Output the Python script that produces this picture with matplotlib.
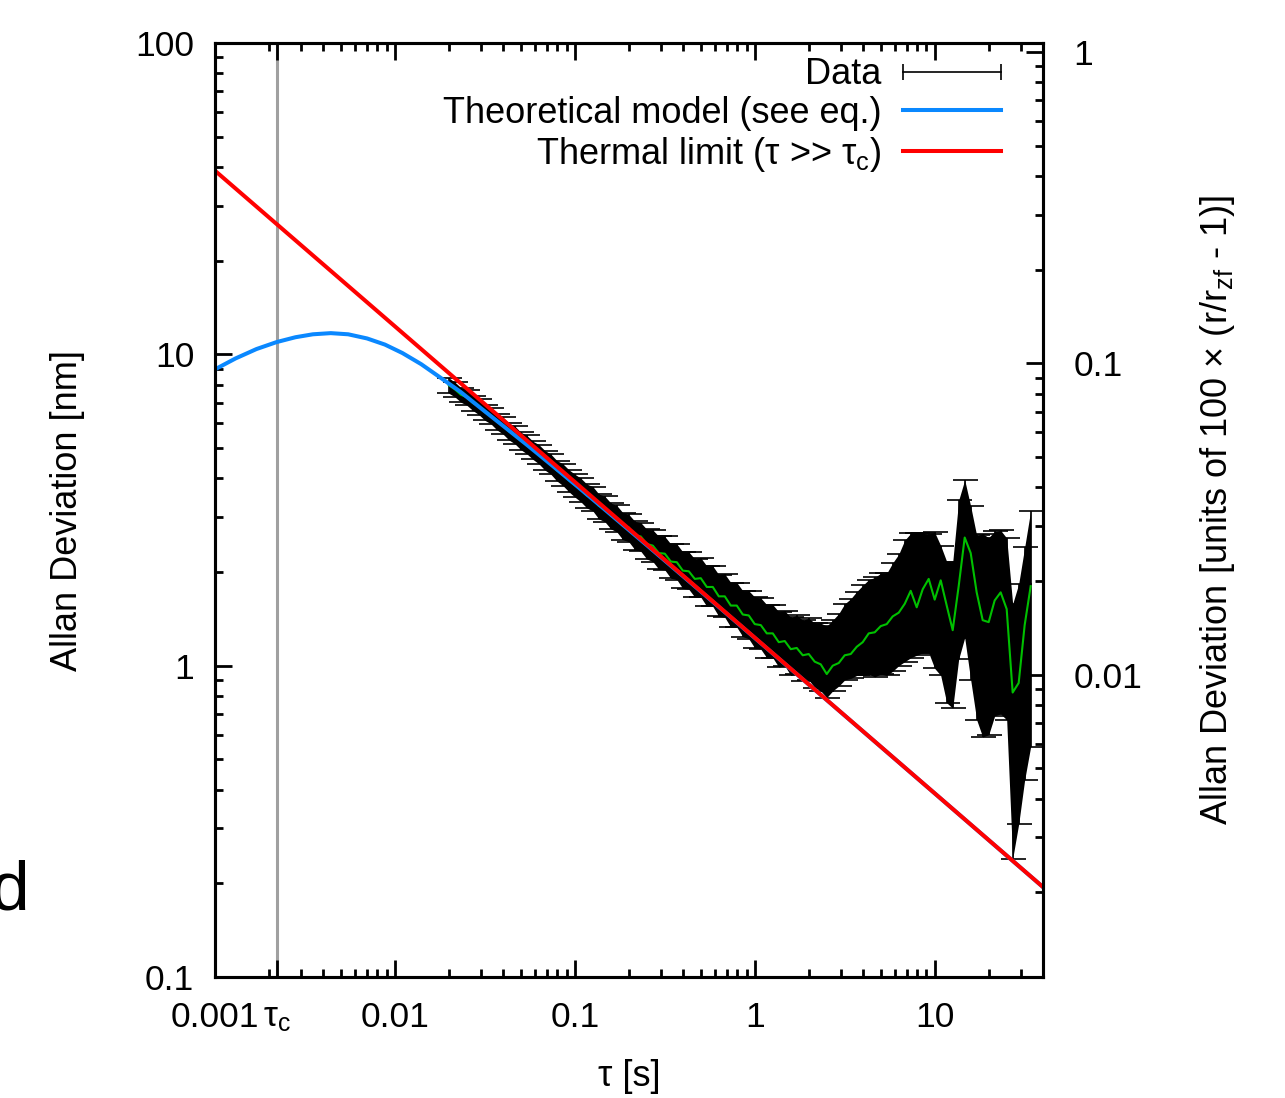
import matplotlib
matplotlib.use("Agg")
import matplotlib.pyplot as plt
from matplotlib.lines import Line2D
from matplotlib.ticker import NullFormatter

plt.rcParams['font.family'] = ['Liberation Sans', 'DejaVu Sans']
plt.rcParams['mathtext.default'] = 'regular'

# measured Allan deviation (nm) with lower / upper error
tau = [0.01995, 0.02154, 0.02326, 0.02512, 0.02712, 0.02929, 0.03162, 0.03415, 0.03687, 0.03981,
       0.04299, 0.04642, 0.05012, 0.05412, 0.05843, 0.06310, 0.06813, 0.07356, 0.07943, 0.08577, 0.09261,
       0.1000, 0.1080, 0.1166, 0.1259, 0.1359, 0.1468, 0.1585, 0.1711, 0.1848, 0.1995,
       0.2154, 0.2326, 0.2512, 0.2712, 0.2929, 0.3162, 0.3415, 0.3687, 0.3981, 0.4299,
       0.4642, 0.5012, 0.5412, 0.5843, 0.6310, 0.6813, 0.7356, 0.7943, 0.8577, 0.9261,
       1.000, 1.080, 1.166, 1.259, 1.359, 1.468, 1.585, 1.711, 1.848, 1.995,
       2.154, 2.326, 2.512, 2.712, 2.929, 3.162, 3.415, 3.687, 3.981, 4.299,
       4.642, 5.012, 5.412, 5.843, 6.310, 6.813, 7.356, 7.943, 8.577, 9.261,
       10.00, 10.80, 11.66, 12.59, 13.59, 14.68, 15.85, 17.11, 18.48, 19.95,
       21.54, 23.26, 25.12, 27.12, 29.29, 31.62, 34.15]
adev = [7.95, 7.72, 7.42, 7.28, 6.98, 6.80, 6.52, 6.35, 6.08, 5.92,
        5.66, 5.52, 5.28, 5.14, 4.93, 4.79, 4.58, 4.45, 4.24, 4.12, 3.94,
        3.80, 3.68, 3.52, 3.45, 3.26, 3.20, 3.04, 2.98, 2.82, 2.78,
        2.63, 2.60, 2.46, 2.43, 2.30, 2.29, 2.16, 2.15, 2.02, 2.01,
        1.90, 1.91, 1.79, 1.79, 1.67, 1.67, 1.56, 1.56, 1.46, 1.45,
        1.36, 1.35, 1.27, 1.27, 1.19, 1.20, 1.13, 1.14, 1.08, 1.09,
        1.03, 1.01, 0.94, 1.00, 1.02, 1.08, 1.09, 1.15, 1.19, 1.27,
        1.28, 1.34, 1.36, 1.44, 1.48, 1.58, 1.74, 1.54, 1.76, 1.90,
        1.63, 1.88, 1.56, 1.30, 1.80, 2.58, 2.30, 1.72, 1.40, 1.38,
        1.62, 1.72, 1.52, 0.82, 0.88, 1.35, 1.80]
err_lo = [0.45, 0.42, 0.40, 0.42, 0.38, 0.40, 0.38, 0.37, 0.36, 0.37,
          0.35, 0.36, 0.34, 0.35, 0.33, 0.34, 0.33, 0.33, 0.32, 0.33, 0.32,
          0.32, 0.32, 0.31, 0.31, 0.30, 0.30, 0.29, 0.29, 0.28, 0.28,
          0.27, 0.27, 0.26, 0.27, 0.26, 0.26, 0.25, 0.26, 0.25, 0.25,
          0.24, 0.25, 0.24, 0.24, 0.23, 0.24, 0.23, 0.23, 0.22, 0.23,
          0.22, 0.22, 0.21, 0.21, 0.20, 0.20, 0.20, 0.20, 0.19, 0.19,
          0.18, 0.18, 0.15, 0.17, 0.16, 0.18, 0.18, 0.22, 0.26, 0.33,
          0.36, 0.40, 0.43, 0.48, 0.48, 0.55, 0.68, 0.46, 0.66, 0.80,
          0.65, 0.95, 0.80, 0.57, 0.75, 1.35, 1.40, 1.05, 0.81, 0.78,
          0.93, 1.02, 0.85, 0.58, 0.57, 0.92, 1.25]
err_hi = [0.45, 0.42, 0.40, 0.42, 0.38, 0.40, 0.38, 0.37, 0.36, 0.37,
          0.35, 0.36, 0.34, 0.35, 0.33, 0.34, 0.33, 0.33, 0.32, 0.33, 0.32,
          0.32, 0.32, 0.31, 0.31, 0.30, 0.30, 0.29, 0.29, 0.28, 0.28,
          0.28, 0.28, 0.28, 0.30, 0.30, 0.31, 0.30, 0.31, 0.30, 0.31,
          0.30, 0.31, 0.30, 0.30, 0.29, 0.30, 0.29, 0.29, 0.28, 0.29,
          0.30, 0.30, 0.30, 0.30, 0.30, 0.30, 0.30, 0.31, 0.32, 0.33,
          0.34, 0.36, 0.40, 0.40, 0.45, 0.50, 0.55, 0.58, 0.62, 0.62,
          0.64, 0.64, 0.62, 0.70, 0.80, 0.95, 0.92, 1.12, 0.90, 0.75,
          1.05, 0.55, 0.60, 0.85, 1.60, 1.37, 0.95, 0.90, 1.25, 1.20,
          1.08, 1.00, 1.05, 0.76, 0.95, 1.05, 1.35]

# theoretical model curve
tau_model = [0.001, 0.0013, 0.0017, 0.0022, 0.0028, 0.0035, 0.0044, 0.0055, 0.007, 0.0088,
             0.011, 0.014, 0.018, 0.023, 0.03, 0.04, 0.055, 0.075, 0.1, 0.15,
             0.25, 0.5, 1, 3, 10, 40]
adev_model = [8.95, 9.7, 10.4, 10.95, 11.35, 11.6, 11.7, 11.6, 11.25, 10.75,
              10.1, 9.3, 8.4, 7.6, 6.72, 5.89, 5.085, 4.39, 3.825, 3.14,
              2.444, 1.734, 1.228, 0.7097, 0.3889, 0.1944]

# thermal limit (tau >> tau_c)
tau_limit = [0.001, 40]
adev_limit = [38.9, 0.1945]

tau_c = 0.0022
y2_scale = 0.01069

blue = '#0a88ff'
green = '#00c000'

fig = plt.figure(figsize=(12.85, 10.98), dpi=100)
ax = fig.add_axes([0.1673, 0.1102, 0.6444, 0.8506])

lower = [m - e for m, e in zip(adev, err_lo)]
upper = [m + e for m, e in zip(adev, err_hi)]
ax.fill_between(tau, lower, upper, color='black', lw=0, zorder=1)
ax.errorbar(tau, adev, yerr=[err_lo, err_hi], fmt='none', ecolor='black',
            elinewidth=1.2, capsize=9, capthick=1.2, zorder=1)
ax.plot(tau, adev, color=green, lw=1.5, zorder=2)
ax.plot(tau_model, adev_model, color=blue, lw=2.9, zorder=3)
ax.plot(tau_limit, adev_limit, color='red', lw=2.9, zorder=4)
ax.axvline(tau_c, color='#a0a0a0', lw=2.2, zorder=0)

ax.set_xscale('log')
ax.set_yscale('log')
ax.set_xlim(0.001, 40)
ax.set_ylim(0.1, 100)
ax.set_xticks([0.001, tau_c, 0.01, 0.1, 1, 10],
              labels=['0.001', 'τ$_c$', '0.01', '0.1', '1', '10'])
ax.set_yticks([0.1, 1, 10, 100], labels=['0.1', '1', '10', '100'])
ax.xaxis.set_minor_formatter(NullFormatter())
ax.yaxis.set_minor_formatter(NullFormatter())
ax.tick_params(which='both', direction='in', top=True, right=False, width=2, labelsize=25.5)
ax.tick_params(which='major', length=12)
ax.tick_params(which='minor', length=6)
ax.tick_params(axis='x', pad=17)
ax.tick_params(axis='y', pad=15)
for s in ax.spines.values():
    s.set_linewidth(2.2)

ax.set_xlabel('τ [s]', fontsize=26, labelpad=18)
ax.set_ylabel('Allan Deviation [nm]', fontsize=26, labelpad=36)

ax2 = ax.twinx()
ax2.set_yscale('log')
ax2.set_ylim(0.1 * y2_scale, 100 * y2_scale)
ax2.set_yticks([0.01, 0.1, 1], labels=['0.01', '0.1', '1'])
ax2.yaxis.set_minor_formatter(NullFormatter())
ax2.tick_params(which='both', direction='in', right=True, left=False, width=2, labelsize=25.5, pad=22)
ax2.tick_params(which='major', length=12)
ax2.tick_params(which='minor', length=6)
for s in ax2.spines.values():
    s.set_linewidth(2.2)
ax2.set_ylabel('Allan Deviation [units of 100 × (r/r$_{zf}$ - 1)]', fontsize=26, labelpad=40)

handles = [Line2D([], [], color='black', lw=1.2, marker='|', markersize=12, markeredgewidth=1.2),
           Line2D([], [], color=blue, lw=2.9),
           Line2D([], [], color='red', lw=2.9)]
labels = ['Data', 'Theoretical model (see eq.)', 'Thermal limit (τ >> τ$_c$)']
ax2.legend(handles, labels, loc='upper right', bbox_to_anchor=(0.9795, 1.0),
           frameon=False, markerfirst=False, numpoints=2, fontsize=26,
           handlelength=3.3, handletextpad=0.3, labelspacing=0.1, borderaxespad=0)

fig.text(0.0226, 1 - 910 / 1098, 'd', ha='right', va='baseline', fontsize=50)

fig.savefig('out.png', dpi=100)
